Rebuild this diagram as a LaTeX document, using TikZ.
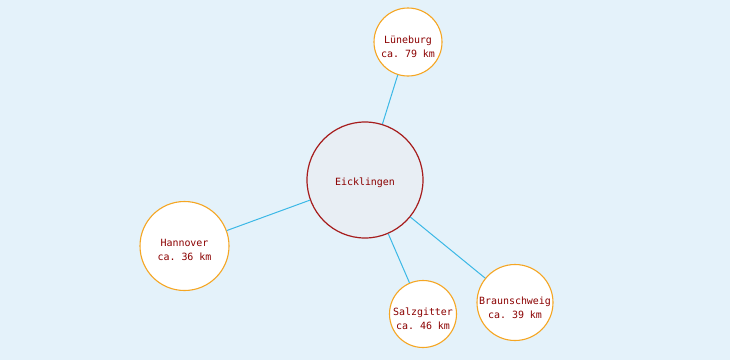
\documentclass[tikz,border=0pt]{standalone}
\usepackage{fontspec}
\setmonofont{DejaVu Sans Mono}
\usetikzlibrary{positioning}
\definecolor{bgblue}{HTML}{E4F2FA}
\definecolor{linkblue}{HTML}{3BB8E6}
\definecolor{ringorange}{HTML}{F5A623}
\definecolor{hubfill}{HTML}{E8EEF4}
\definecolor{hubred}{HTML}{A61C1C}
\definecolor{txtred}{HTML}{8B0000}

\begin{document}
\begin{tikzpicture}[x=1bp, y=-1bp,
    town/.style={circle, draw=ringorange, fill=white, line width=1.1bp, inner sep=0pt},
    hub/.style={circle, draw=hubred, fill=hubfill, line width=1.2bp, inner sep=0pt,
                minimum size=116bp},
    caption/.style={text=txtred, align=center, inner sep=0pt,
                    font=\ttfamily\fontsize{10}{14}\selectfont},
    link/.style={linkblue, line width=1bp}]
  % Background
  \fill[bgblue] (0,0) rectangle (730,360);
  \useasboundingbox (0,0) rectangle (730,360);

  % Hub
  \node[hub, label={[caption, name=eick-txt, yshift=-3bp]center:Eicklingen}] (eick) at (365,180) {};

  % Towns
  \node[town, minimum size=68bp,
        label={[caption, name=luene-txt, yshift=-5bp]center:Lüneburg\\ca. 79 km}] (luene) at (408,42) {};
  \node[town, minimum size=89bp,
        label={[caption, name=hann-txt, yshift=-4bp]center:Hannover\\ca. 36 km}] (hann) at (184.5,246) {};
  \node[town, minimum size=67bp,
        label={[caption, name=salz-txt, yshift=-4.5bp]center:Salzgitter\\ca. 46 km}] (salz) at (423,314) {};
  \node[town, minimum size=76bp,
        label={[caption, name=braun-txt, yshift=-5bp]center:Braunschweig\\ca. 39 km}] (braun) at (515,302.5) {};

  % Links
  \foreach \t in {luene, hann, salz, braun}
    \draw[link] (eick) -- (\t);
\end{tikzpicture}
\end{document}
